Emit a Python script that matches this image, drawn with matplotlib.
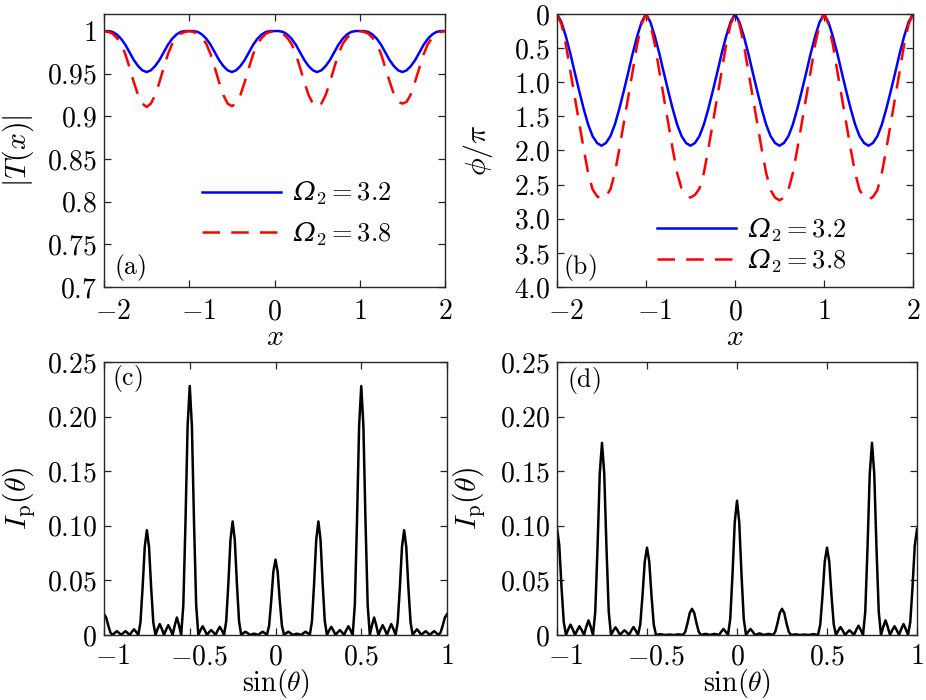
import numpy as np
import matplotlib
matplotlib.use("Agg")
import matplotlib.pyplot as plt
import matplotlib.transforms as mtransforms
from matplotlib.font_manager import FontProperties

plt.rcParams['mathtext.fontset'] = 'cm'
plt.rcParams['font.family'] = 'serif'
plt.rcParams['font.serif'] = ['cmr10', 'DejaVu Serif']
plt.rcParams['axes.unicode_minus'] = True

# ---------------- data ----------------
# top row: x from -2 to 2, step 0.05
x_top = np.linspace(-2, 2, 81)

T_32 = [1.0, 1.0, 0.999, 0.996, 0.991, 0.984, 0.975, 0.966, 0.959, 0.954,
        0.952, 0.954, 0.959, 0.966, 0.975, 0.984, 0.991, 0.996, 0.999, 1.0,
        1.0, 1.0, 0.999, 0.996, 0.991, 0.984, 0.975, 0.966, 0.959, 0.954,
        0.952, 0.954, 0.959, 0.966, 0.975, 0.984, 0.991, 0.996, 0.999, 1.0,
        1.0, 1.0, 0.999, 0.996, 0.991, 0.984, 0.975, 0.966, 0.959, 0.954,
        0.952, 0.954, 0.959, 0.966, 0.975, 0.984, 0.991, 0.996, 0.999, 1.0,
        1.0, 1.0, 0.999, 0.996, 0.991, 0.984, 0.975, 0.966, 0.959, 0.954,
        0.952, 0.954, 0.959, 0.966, 0.975, 0.984, 0.991, 0.996, 0.999, 1.0,
        1.0]

T_38 = [1.0, 0.999, 0.997, 0.992, 0.985, 0.973, 0.957, 0.940, 0.925, 0.915,
        0.911, 0.915, 0.925, 0.940, 0.957, 0.973, 0.985, 0.992, 0.997, 0.999,
        1.0, 0.999, 0.997, 0.992, 0.985, 0.973, 0.957, 0.940, 0.925, 0.915,
        0.912, 0.915, 0.925, 0.940, 0.957, 0.973, 0.985, 0.992, 0.997, 0.999,
        1.0, 0.999, 0.997, 0.992, 0.985, 0.973, 0.957, 0.940, 0.925, 0.915,
        0.911, 0.915, 0.925, 0.940, 0.957, 0.973, 0.985, 0.992, 0.997, 0.999,
        1.0, 0.999, 0.997, 0.992, 0.985, 0.973, 0.957, 0.941, 0.926, 0.917,
        0.915, 0.917, 0.926, 0.941, 0.957, 0.973, 0.985, 0.992, 0.997, 0.999,
        1.0]

phi_32 = [0.0, 0.12, 0.33, 0.58, 0.86, 1.13, 1.39, 1.62, 1.79, 1.89,
          1.93, 1.89, 1.79, 1.62, 1.39, 1.13, 0.86, 0.58, 0.33, 0.12,
          0.0, 0.12, 0.33, 0.58, 0.86, 1.13, 1.39, 1.62, 1.79, 1.89,
          1.93, 1.89, 1.79, 1.62, 1.39, 1.13, 0.86, 0.58, 0.33, 0.12,
          0.0, 0.12, 0.33, 0.58, 0.86, 1.13, 1.39, 1.62, 1.79, 1.89,
          1.93, 1.89, 1.79, 1.62, 1.39, 1.13, 0.86, 0.58, 0.33, 0.12,
          0.0, 0.12, 0.33, 0.58, 0.86, 1.13, 1.39, 1.62, 1.79, 1.89,
          1.93, 1.89, 1.79, 1.62, 1.39, 1.13, 0.86, 0.58, 0.33, 0.12,
          0.0]

phi_38 = [0.0, 0.15, 0.45, 0.84, 1.22, 1.60, 1.98, 2.33, 2.57, 2.67,
          2.71, 2.67, 2.57, 2.33, 1.98, 1.60, 1.22, 0.84, 0.45, 0.15,
          0.0, 0.15, 0.45, 0.84, 1.22, 1.60, 1.98, 2.33, 2.56, 2.65,
          2.69, 2.65, 2.56, 2.33, 1.98, 1.60, 1.22, 0.84, 0.45, 0.15,
          0.0, 0.15, 0.45, 0.84, 1.22, 1.60, 1.98, 2.33, 2.58, 2.69,
          2.73, 2.69, 2.58, 2.33, 1.98, 1.60, 1.22, 0.84, 0.45, 0.15,
          0.0, 0.15, 0.45, 0.84, 1.22, 1.60, 1.98, 2.33, 2.58, 2.68,
          2.72, 2.68, 2.58, 2.33, 1.98, 1.60, 1.22, 0.84, 0.45, 0.15,
          0.0]

# bottom row: sin(theta) from -1 to 1, step 0.0125
s = np.linspace(-1, 1, 161)

I_c = [0.019, 0.016, 0.0086, 0.0023, 0, 0.0019, 0.0035, 0.0019, 0, 0.0019,
       0.0035, 0.0019, 0, 0.0029, 0.0052, 0.0029, 0, 0.0115, 0.0432, 0.0806,
       0.096, 0.0806, 0.0432, 0.0115, 0, 0.0055, 0.010, 0.0055, 0, 0.005,
       0.009, 0.005, 0, 0.0088, 0.016, 0.0088, 0, 0.0274, 0.1026, 0.1915,
       0.228, 0.1915, 0.1026, 0.0274, 0, 0.0044, 0.008, 0.0044, 0, 0.0025,
       0.0045, 0.0025, 0, 0.0041, 0.0075, 0.0041, 0, 0.0125, 0.0468, 0.0874,
       0.104, 0.0874, 0.0468, 0.0125, 0, 0.0017, 0.003, 0.0017, 0, 0.0007,
       0.0012, 0.0007, 0, 0.0017, 0.003, 0.0017, 0, 0.0083, 0.0311, 0.058,
       0.069, 0.058, 0.0311, 0.0083, 0, 0.0017, 0.003, 0.0017, 0, 0.0007,
       0.0012, 0.0007, 0, 0.0017, 0.003, 0.0017, 0, 0.0125, 0.0468, 0.0874,
       0.104, 0.0874, 0.0468, 0.0125, 0, 0.0041, 0.0075, 0.0041, 0, 0.0025,
       0.0045, 0.0025, 0, 0.0044, 0.008, 0.0044, 0, 0.0274, 0.1026, 0.1915,
       0.228, 0.1915, 0.1026, 0.0274, 0, 0.0088, 0.016, 0.0088, 0, 0.005,
       0.009, 0.005, 0, 0.0055, 0.010, 0.0055, 0, 0.0115, 0.0432, 0.0806,
       0.096, 0.0806, 0.0432, 0.0115, 0, 0.0029, 0.0052, 0.0029, 0, 0.0019,
       0.0035, 0.0019, 0, 0.0019, 0.0035, 0.0019, 0, 0.0023, 0.0086, 0.016,
       0.019]

I_d = [0.098, 0.0823, 0.0441, 0.0118, 0, 0.0052, 0.0095, 0.0052, 0, 0.0044,
       0.008, 0.0044, 0, 0.0074, 0.0134, 0.0074, 0, 0.0211, 0.0792, 0.1478,
       0.176, 0.1478, 0.0792, 0.0211, 0, 0.0039, 0.007, 0.0039, 0, 0.0024,
       0.0043, 0.0024, 0, 0.004, 0.0073, 0.004, 0, 0.0096, 0.036, 0.0672,
       0.080, 0.0672, 0.036, 0.0096, 0, 0.0004, 0.0008, 0.0004, 0, 0.0002,
       0.0004, 0.0002, 0, 0.0003, 0.0006, 0.0003, 0, 0.0029, 0.0108, 0.0202,
       0.024, 0.0202, 0.0108, 0.0029, 0, 0.0006, 0.001, 0.0006, 0, 0.0006,
       0.001, 0.0006, 0, 0.003, 0.0055, 0.003, 0, 0.0148, 0.0554, 0.1033,
       0.123, 0.1033, 0.0554, 0.0148, 0, 0.003, 0.0055, 0.003, 0, 0.0008,
       0.0015, 0.0008, 0, 0.0006, 0.001, 0.0006, 0, 0.0029, 0.0108, 0.0202,
       0.024, 0.0202, 0.0108, 0.0029, 0, 0.0003, 0.0006, 0.0003, 0, 0.0002,
       0.0004, 0.0002, 0, 0.0004, 0.0008, 0.0004, 0, 0.0096, 0.036, 0.0672,
       0.080, 0.0672, 0.036, 0.0096, 0, 0.004, 0.0073, 0.004, 0, 0.0024,
       0.0043, 0.0024, 0, 0.0047, 0.0085, 0.0047, 0, 0.0211, 0.0792, 0.1478,
       0.176, 0.1478, 0.0792, 0.0211, 0, 0.0074, 0.0134, 0.0074, 0, 0.0044,
       0.008, 0.0044, 0, 0.0055, 0.010, 0.0055, 0, 0.0116, 0.0437, 0.0815,
       0.097]

# Omega is set in an italic text font, the rest in math
labels_omega = [r'Ω$_2=3.2$', r'Ω$_2=3.8$']

xt_top = [-2, -1, 0, 1, 2]
xt_top_lbl = [r'$-2$', r'$-1$', r'$0$', r'$1$', r'$2$']
yt_a = [0.7, 0.75, 0.8, 0.85, 0.9, 0.95, 1.0]
yt_a_lbl = [r'$0.7$', r'$0.75$', r'$0.8$', r'$0.85$', r'$0.9$', r'$0.95$', r'$1$']
yt_b = [0, 0.5, 1.0, 1.5, 2.0, 2.5, 3.0, 3.5, 4.0]
yt_b_lbl = [r'$0$', r'$0.5$', r'$1.0$', r'$1.5$', r'$2.0$', r'$2.5$', r'$3.0$', r'$3.5$', r'$4.0$']
xt_bot = [-1, -0.5, 0, 0.5, 1]
xt_bot_lbl = [r'$-1$', r'$-0.5$', r'$0$', r'$0.5$', r'$1$']
yt_bot = [0, 0.05, 0.10, 0.15, 0.20, 0.25]
yt_bot_lbl = [r'$0$', r'$0.05$', r'$0.10$', r'$0.15$', r'$0.20$', r'$0.25$']

# ---------------- figure ----------------
FS = 20      # tick labels
FL = 21.5    # axis labels
FP = 18.5    # panel letters
LW = 1.8
fig = plt.figure(figsize=(9.26, 7.0), dpi=100)
W, H = 926.0, 700.0

leg_font = FontProperties(family='DejaVu Serif', style='italic', size=FS - 1)
# negative tick labels sit a bit to the right in the original
neg_shift = mtransforms.ScaledTranslation(9 / 100, 0, fig.dpi_scale_trans)


def make_ax(l, r, t, b):
    return fig.add_axes([l / W, 1 - b / H, (r - l) / W, (b - t) / H])


def style(ax, ylab_x, xpad=8.5):
    for sp in ax.spines.values():
        sp.set_linewidth(1.0)
        sp.set_color('#262626')
    ax.tick_params(direction='in', top=True, right=True, length=5, width=0.9,
                   colors='#262626', labelcolor='black', labelsize=FS, pad=5)
    ax.tick_params(axis='x', pad=xpad)
    for lab in ax.get_xticklabels():
        if lab.get_text().startswith('$-'):
            lab.set_transform(lab.get_transform() + neg_shift)
    ax.yaxis.set_label_coords(ylab_x, 0.5)


ax_a = make_ax(104, 445, 14, 287)
ax_b = make_ax(557, 913, 14, 287)
ax_c = make_ax(104, 447, 362, 635)
ax_d = make_ax(557, 917, 362, 635)

# (a)
ax_a.plot(x_top, T_32, color='#0000ff', lw=LW, label=labels_omega[0])
ax_a.plot(x_top, T_38, color='#ff0000', lw=LW, dashes=(7, 4.5), label=labels_omega[1])
ax_a.set_xlim(-2, 2)
ax_a.set_ylim(0.7, 1.02)
ax_a.set_xticks(xt_top, xt_top_lbl)
ax_a.set_yticks(yt_a, yt_a_lbl)
ax_a.set_xlabel(r'$x$', fontsize=FL, labelpad=-1)
ax_a.set_ylabel(r'$|T(x)|$', fontsize=FL)
ax_a.legend(loc='center left', bbox_to_anchor=(0.287, 0.268), frameon=False,
            prop=leg_font, handlelength=3.0, handletextpad=0.45, labelspacing=0.5,
            borderpad=0, borderaxespad=0)
ax_a.text(0.03, 0.07, r'$\mathrm{(a)}$', transform=ax_a.transAxes, fontsize=FP,
          va='center', ha='left')
style(ax_a, -0.20)

# (b)
ax_b.plot(x_top, phi_32, color='#0000ff', lw=LW, label=labels_omega[0])
ax_b.plot(x_top, phi_38, color='#ff0000', lw=LW, dashes=(7, 4.5), label=labels_omega[1])
ax_b.set_xlim(-2, 2)
ax_b.set_ylim(4.0, 0)
ax_b.set_xticks(xt_top, xt_top_lbl)
ax_b.set_yticks(yt_b, yt_b_lbl)
ax_b.set_xlabel(r'$x$', fontsize=FL, labelpad=-1)
ax_b.set_ylabel(r'$\phi/\pi$', fontsize=FL)
ax_b.legend(loc='center left', bbox_to_anchor=(0.28, 0.152), frameon=False,
            prop=leg_font, handlelength=3.0, handletextpad=0.45, labelspacing=0.15,
            borderpad=0, borderaxespad=0)
ax_b.text(0.017, 0.07, r'$\mathrm{(b)}$', transform=ax_b.transAxes, fontsize=FP,
          va='center', ha='left')
style(ax_b, -0.175)

# (c)
ax_c.plot(s, I_c, color='black', lw=LW, solid_joinstyle='round')
ax_c.set_xlim(-1, 1)
ax_c.set_ylim(0, 0.25)
ax_c.set_xticks(xt_bot, xt_bot_lbl)
ax_c.set_yticks(yt_bot, yt_bot_lbl)
ax_c.set_xlabel(r'$\sin(\theta)$', fontsize=FS, labelpad=-2.5)
ax_c.set_ylabel(r'$I_{\rm p}(\theta)$', fontsize=FL)
ax_c.text(0.022, 0.94, r'$\mathrm{(c)}$', transform=ax_c.transAxes, fontsize=FP,
          va='center', ha='left')
style(ax_c, -0.195, xpad=6.5)

# (d)
ax_d.plot(s, I_d, color='black', lw=LW, solid_joinstyle='round')
ax_d.set_xlim(-1, 1)
ax_d.set_ylim(0, 0.25)
ax_d.set_xticks(xt_bot, xt_bot_lbl)
ax_d.set_yticks(yt_bot, yt_bot_lbl)
ax_d.set_xlabel(r'$\sin(\theta)$', fontsize=FS, labelpad=-2.5)
ax_d.set_ylabel(r'$I_{\rm p}(\theta)$', fontsize=FL)
ax_d.text(0.027, 0.934, r'$\mathrm{(d)}$', transform=ax_d.transAxes, fontsize=FP,
          va='center', ha='left')
style(ax_d, -0.194, xpad=6.5)

fig.savefig('out.png', dpi=100)
